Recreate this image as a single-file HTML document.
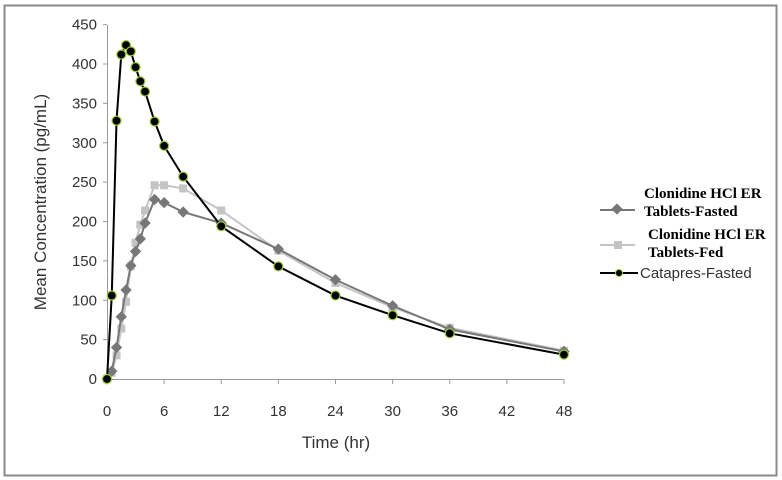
<!DOCTYPE html>
<html><head><meta charset="utf-8"><style>
body{margin:0;background:#fff;}
svg{display:block;font-family:"Liberation Sans",sans-serif;}
</style></head><body>
<svg width="782" height="480" viewBox="0 0 782 480" xmlns="http://www.w3.org/2000/svg">
<rect x="4.5" y="5.5" width="772" height="470" fill="#fff" stroke="#8a8a8a" stroke-width="2"/>
<g stroke="#999" stroke-width="1" fill="none">
<line x1="107.5" y1="25" x2="107.5" y2="379"/>
<line x1="107" y1="379.5" x2="564" y2="379.5"/>
<g id="yt"></g>
</g>
<g id="plot"></g>
<g font-size="15" fill="#333" text-anchor="end" id="ylab"></g>
<g font-size="15" fill="#333" text-anchor="middle" id="xlab"></g>
<text x="336" y="448" font-size="17" fill="#333" text-anchor="middle">Time (hr)</text>
<text transform="translate(46,202) rotate(-90)" font-size="17" fill="#333" text-anchor="middle">Mean Concentration (pg/mL)</text>
<g font-family="Liberation Serif,serif" font-weight="bold" font-size="15" fill="#000">
<text x="644" y="198">Clonidine HCl ER</text>
<text x="644" y="216">Tablets-Fasted</text>
<text x="648" y="239">Clonidine HCl ER</text>
<text x="648" y="257">Tablets-Fed</text>
</g>
<text x="640" y="278" font-size="15" fill="#333">Catapres-Fasted</text>
<line x1="600" y1="210" x2="635" y2="210" stroke="#777" stroke-width="2"/>
<rect x="613" y="205" width="8" height="8" transform="rotate(45 617 209)" fill="#777"/>
<line x1="600" y1="245" x2="635" y2="245" stroke="#c4c4c4" stroke-width="2"/>
<rect x="614" y="241" width="8" height="8" fill="#c4c4c4"/>
<line x1="600" y1="273" x2="638" y2="273" stroke="#000" stroke-width="2"/>
<circle cx="619" cy="273" r="3.5" fill="#000" stroke="#9c3" stroke-width="1"/>
</svg>
<script>
const ns="http://www.w3.org/2000/svg";
const X=h=>107+h*9.52, Y=v=>379-v*0.7875;
function el(p,t,a){const e=document.createElementNS(ns,t);for(const k in a)e.setAttribute(k,a[k]);p.appendChild(e);return e;}
const yt=document.getElementById('yt'),yl=document.getElementById('ylab'),xl=document.getElementById('xlab');
for(let v=0;v<=450;v+=50){el(yt,'line',{x1:103,x2:107,y1:Y(v),y2:Y(v)});el(yl,'text',{x:97,y:Y(v)+5}).textContent=v;}
for(let h=0;h<=48;h+=6){el(yt,'line',{x1:X(h),x2:X(h),y1:379,y2:384});el(xl,'text',{x:X(h),y:416}).textContent=h;}
const t=[0,0.5,1,1.5,2,2.5,3,3.5,4,5,6,8,12,18,24,30,36,48];
const fed=[0,8,30,64,98,143,173,196,214,246,246,242,214,163,122,91,65,36];
const fas=[0,10,40,79,113,144,162,178,198,228,224,212,198,165,126,93,63,35];
const cat=[0,106,328,412,424,416,396,378,365,327,296,257,194,143,106,81,58,31];
const p=document.getElementById('plot');
function pts(d){return t.map((h,i)=>X(h)+','+Y(d[i])).join(' ');}
el(p,'polyline',{points:pts(fed),fill:'none',stroke:'#c4c4c4','stroke-width':2});
t.forEach((h,i)=>el(p,'rect',{x:X(h)-4,y:Y(fed[i])-4,width:8,height:8,fill:'#c4c4c4'}));
el(p,'polyline',{points:pts(fas),fill:'none',stroke:'#777','stroke-width':2});
t.forEach((h,i)=>el(p,'rect',{x:X(h)-4,y:Y(fas[i])-4,width:8,height:8,fill:'#777',transform:`rotate(45 ${X(h)} ${Y(fas[i])})`}));
el(p,'polyline',{points:pts(cat),fill:'none',stroke:'#000','stroke-width':2});
t.forEach((h,i)=>el(p,'circle',{cx:X(h),cy:Y(cat[i]),r:4.5,fill:'#000',stroke:'#9c3','stroke-width':1.2}));
</script>
</body></html>
